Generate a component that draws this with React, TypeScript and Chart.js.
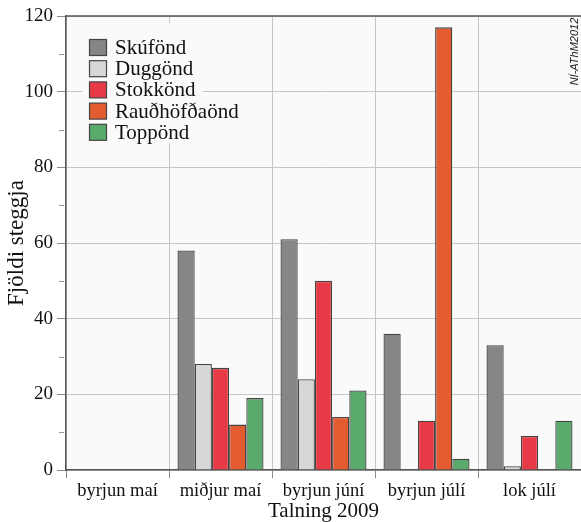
import React, { useEffect, useRef } from "react";
import { Chart, registerables } from "chart.js";

Chart.register(...registerables);

const categories = ["byrjun maí", "miðjur maí", "byrjun júní", "byrjun júlí", "lok júlí"];
const seriesNames = ["Skúfönd", "Duggönd", "Stokkönd", "Rauðhöfðaönd", "Toppönd"];
const skufond = [0, 58, 61, 36, 33];
const duggond = [0, 28, 24, 0, 1];
const stokkond = [0, 27, 50, 13, 9];
const raudhofdaond = [0, 12, 14, 117, 0];
const toppond = [0, 19, 21, 3, 13];
const seriesColors = ["#868686", "#d7d7d7", "#e83a46", "#e35c2f", "#59aa6b"];
const yTicksMajor = [0, 20, 40, 60, 80, 100, 120];
const yTicksMinor = [10, 30, 50, 70, 90, 110];
const watermark = "NÍ-AThM2012";
const xTitle = "Talning 2009";
const yTitle = "Fjöldi steggja";

const SERIF = "'Liberation Serif', 'DejaVu Serif', serif";

const decorPlugin = {
  id: "decor",
  beforeDraw(chart: any) {
    const { ctx, chartArea, width, height } = chart;
    ctx.save();
    ctx.fillStyle = "#ffffff";
    ctx.fillRect(0, 0, width, height);
    ctx.fillStyle = "#fafafa";
    ctx.fillRect(chartArea.left, chartArea.top, chartArea.right - chartArea.left, chartArea.bottom - chartArea.top);
    ctx.restore();
  },
  afterDatasetsDraw(chart: any) {
    const { ctx, chartArea } = chart;
    ctx.save();
    const lx = chartArea.left + 16;
    const ly = chartArea.top + 7;
    ctx.fillStyle = "#fafafa";
    ctx.fillRect(lx, ly, 121, 120);
    chart.data.datasets.forEach((ds: any, i: number) => {
      const by = chartArea.top + 23 + i * 21.2;
      ctx.fillStyle = ds.backgroundColor;
      ctx.fillRect(lx + 7.5, by + 0.5, 17, 16);
      ctx.strokeStyle = "#444";
      ctx.lineWidth = 1.2;
      ctx.strokeRect(lx + 7.5, by + 0.5, 17, 16);
      ctx.fillStyle = "#111";
      ctx.font = `21px ${SERIF}`;
      ctx.textBaseline = "middle";
      ctx.textAlign = "left";
      ctx.fillText(ds.label, lx + 33, by + 9.5);
    });
    ctx.restore();
  },
  afterDraw(chart: any) {
    const { ctx, chartArea } = chart;
    const yScale = chart.scales.y;
    ctx.save();
    ctx.strokeStyle = "#555";
    ctx.lineWidth = 1.5;
    ctx.beginPath();
    ctx.moveTo(chartArea.left, chartArea.top);
    ctx.lineTo(chartArea.right, chartArea.top);
    ctx.stroke();
    ctx.strokeStyle = "#999";
    ctx.lineWidth = 1;
    yTicksMinor.forEach((v) => {
      const py = Math.round(yScale.getPixelForValue(v)) + 0.5;
      ctx.beginPath();
      ctx.moveTo(chartArea.left - 7, py);
      ctx.lineTo(chartArea.left - 2, py);
      ctx.stroke();
    });
    ctx.translate(chartArea.right - 3, chartArea.top + 35.5);
    ctx.rotate(-Math.PI / 2);
    ctx.fillStyle = "#222";
    ctx.font = "italic 11px 'Liberation Sans', Arial, sans-serif";
    ctx.textAlign = "center";
    ctx.textBaseline = "alphabetic";
    ctx.fillText(watermark, 0, 0);
    ctx.restore();
  },
};

export default function App() {
  const ref = useRef<HTMLCanvasElement | null>(null);
  useEffect(() => {
    if (!ref.current) return;
    const values = [skufond, duggond, stokkond, raudhofdaond, toppond];
    const chart = new Chart(ref.current, {
      type: "bar",
      data: {
        labels: categories,
        datasets: seriesNames.map((name, i) => ({
          label: name,
          data: values[i],
          backgroundColor: seriesColors[i],
          borderColor: "#444",
          borderWidth: 1.3,
          categoryPercentage: 0.835,
          barPercentage: 1,
        })),
      },
      options: {
        responsive: false,
        animation: false,
        devicePixelRatio: 1,
        layout: { padding: { top: 16, right: 0, left: 0, bottom: 0 } },
        plugins: { legend: { display: false }, tooltip: { enabled: false } },
        scales: {
          x: {
            grid: { offset: true, color: "#c6c6c6", tickColor: "#888", tickLength: 8, lineWidth: 1 },
            border: { color: "#555", width: 1.5 },
            ticks: { color: "#111", font: { family: SERIF, size: 18.5 }, padding: 2, maxRotation: 0 },
            title: { display: true, text: xTitle, color: "#111", font: { family: SERIF, size: 21, lineHeight: 1.0 }, padding: { top: 0, bottom: 0 } },
            afterFit: (s: any) => { s.height = 52; },
          },
          y: {
            min: 0,
            max: 120,
            afterBuildTicks: (s: any) => { s.ticks = yTicksMajor.map((v) => ({ value: v })); },
            grid: { color: "#c6c6c6", tickColor: "#888", tickLength: 9, lineWidth: 1 },
            border: { color: "#555", width: 1.5 },
            ticks: { color: "#111", font: { family: SERIF, size: 19 }, padding: 4 },
            title: { display: true, text: yTitle, color: "#111", font: { family: SERIF, size: 23, lineHeight: 1.1 }, padding: { top: 4, bottom: 0 } },
            afterFit: (s: any) => { s.width = 66; },
          },
        },
      },
      plugins: [decorPlugin],
    });
    return () => chart.destroy();
  }, []);
  return (
    <div style={{ position: "fixed", left: 0, top: 0, width: 581, height: 522, background: "#fff" }}>
      <canvas ref={ref} width={581} height={522} style={{ display: "block" }} />
    </div>
  );
}
